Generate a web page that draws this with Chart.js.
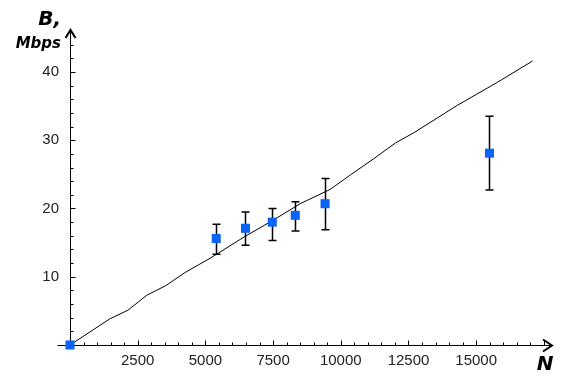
<!DOCTYPE html>
<html>
<head>
<meta charset="utf-8">
<script src="https://cdn.jsdelivr.net/npm/chart.js@4/dist/chart.umd.min.js"></script>
<style>
  html, body { margin: 0; padding: 0; background: #fff; }
  #wrap { width: 575px; height: 381px; }
</style>
</head>
<body>
<div id="wrap"><canvas id="bwChart"></canvas></div>
<script>
// model curve B(N)
const curveN = [0, 1460, 2140, 2840, 3540, 4240, 5170, 6460, 7510, 8500, 9610, 10350, 11220, 12020, 12700, 14300, 15790, 17080];
const curveB = [0, 3.8, 5.1, 7.3, 8.7, 10.6, 12.7, 15.9, 18.3, 20.7, 22.8, 24.9, 27.3, 29.6, 31.1, 35.1, 38.5, 41.6];

// measurements with error bars
const measN = [0, 5400, 6480, 7470, 8320, 9420, 15490];
const measB = [0, 15.6, 17.1, 18.0, 19.0, 20.7, 28.1];
const errLow = [0, 13.3, 14.6, 15.3, 16.7, 16.9, 22.7];
const errHigh = [0, 17.7, 19.5, 20.0, 21.0, 24.4, 33.5];

const xTicks = [2500, 5000, 7500, 10000, 12500, 15000];
const yTicks = [10, 20, 30, 40];
const xMax = 17800, yMax = 46;

const axesPlugin = {
  id: "arrowAxes",
  beforeDatasetsDraw(chart) {
    const { ctx, scales: { x, y } } = chart;
    ctx.save();
    // error bars behind the squares
    ctx.strokeStyle = "#000";
    ctx.lineWidth = 1.5;
    measN.forEach((n, i) => {
      if (errHigh[i] === errLow[i]) return;
      const px = Math.round(x.getPixelForValue(n)) + 0.5;
      const top = y.getPixelForValue(errHigh[i]);
      const bot = y.getPixelForValue(errLow[i]);
      ctx.beginPath();
      ctx.moveTo(px, top); ctx.lineTo(px, bot);
      ctx.moveTo(px - 4, top); ctx.lineTo(px + 4, top);
      ctx.moveTo(px - 4, bot); ctx.lineTo(px + 4, bot);
      ctx.stroke();
    });

    // axes
    const x0 = Math.round(x.getPixelForValue(0)) + 0.5;
    const y0 = Math.round(y.getPixelForValue(0)) + 0.5;
    const xEnd = x.right, yEnd = y.top - 1;
    ctx.lineWidth = 1;
    ctx.beginPath();
    ctx.moveTo(x0 - 13, y0); ctx.lineTo(xEnd, y0);
    ctx.moveTo(x0, y0); ctx.lineTo(x0, yEnd);
    // tick marks
    for (let v = 500; v <= 17500; v += 500) {
      const px = Math.round(x.getPixelForValue(v)) + 0.5;
      ctx.moveTo(px, y0); ctx.lineTo(px, y0 - (v % 2500 === 0 ? 5 : 3));
    }
    for (let v = 2; v <= 44; v += 2) {
      const py = Math.round(y.getPixelForValue(v)) + 0.5;
      ctx.moveTo(x0, py); ctx.lineTo(x0 + (v % 10 === 0 ? 5 : 3), py);
    }
    ctx.stroke();

    // arrow heads
    ctx.lineWidth = 2;
    ctx.beginPath();
    ctx.moveTo(xEnd - 9, y0 - 6); ctx.lineTo(xEnd, y0); ctx.lineTo(xEnd - 9, y0 + 6);
    ctx.moveTo(x0 - 5, yEnd + 8); ctx.lineTo(x0, yEnd); ctx.lineTo(x0 + 5, yEnd + 8);
    ctx.stroke();

    // axis titles
    ctx.fillStyle = "#000";
    ctx.textBaseline = "alphabetic";
    ctx.textAlign = "right";
    ctx.font = "italic bold 20px 'DejaVu Sans'";
    ctx.fillText("B,", 61, 25);
    ctx.font = "italic bold 15px 'DejaVu Sans'";
    ctx.fillText("Mbps", 61, 48);
    ctx.textAlign = "center";
    ctx.font = "italic bold 20px 'DejaVu Sans'";
    ctx.fillText("N", 545, 370);
    ctx.restore();
  },
};

const tickFont = { family: "'Liberation Sans', Arial, sans-serif", size: 15 };

new Chart(document.getElementById("bwChart"), {
  type: "scatter",
  data: {
    datasets: [
      {
        label: "measured",
        data: measN.map((n, i) => ({ x: n, y: measB[i] })),
        pointStyle: "rect",
        pointRadius: 6.4,
        pointHoverRadius: 6.4,
        pointBackgroundColor: "#0a64f5",
        pointBorderWidth: 0,
        clip: false,
      },
      {
        label: "model",
        type: "line",
        data: curveN.map((n, i) => ({ x: n, y: curveB[i] })),
        borderColor: "#000",
        borderWidth: 1,
        pointRadius: 0,
        tension: 0,
        fill: false,
      },
    ],
  },
  options: {
    responsive: true,
    maintainAspectRatio: false,
    animation: false,
    layout: { padding: { left: 0, right: 23, top: 31, bottom: 0 } },
    plugins: { legend: { display: false }, tooltip: { enabled: false } },
    scales: {
      x: {
        type: "linear",
        min: 0,
        max: xMax,
        grid: { display: false, drawTicks: false },
        border: { display: false },
        afterBuildTicks: (s) => { s.ticks = xTicks.map((v) => ({ value: v })); },
        afterFit: (s) => { s.height = 36; },
        ticks: { padding: 7, maxRotation: 0, autoSkip: false, color: "#222", font: tickFont, callback: (v) => String(v) },
      },
      y: {
        min: 0,
        max: yMax,
        grid: { display: false, drawTicks: false },
        border: { display: false },
        afterBuildTicks: (s) => { s.ticks = yTicks.map((v) => ({ value: v })); },
        afterFit: (s) => { s.width = 70; },
        ticks: { padding: 11, autoSkip: false, color: "#222", font: tickFont, callback: (v) => String(v) },
      },
    },
  },
  plugins: [axesPlugin],
});
</script>
</body>
</html>
